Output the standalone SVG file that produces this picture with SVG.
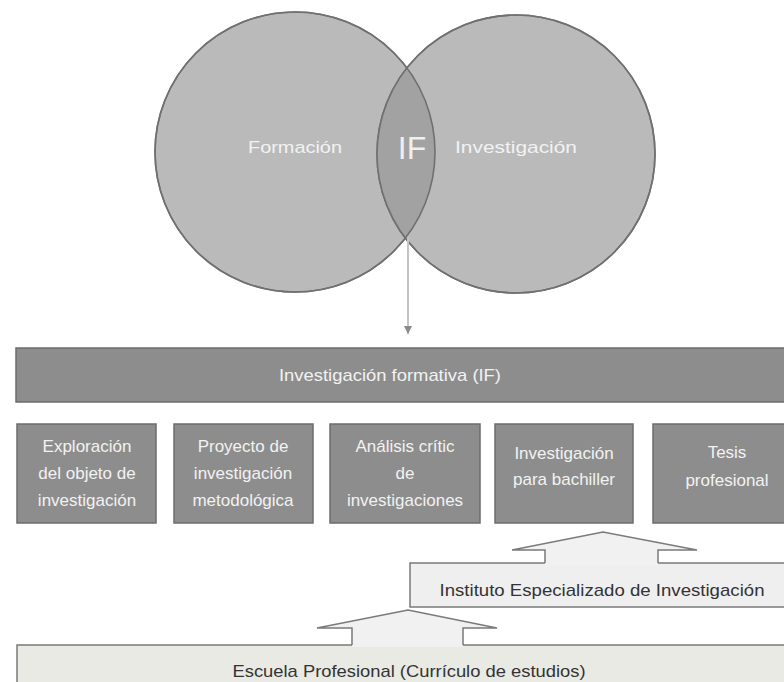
<svg xmlns="http://www.w3.org/2000/svg" width="784" height="682" viewBox="0 0 784 682">
<style>
text{font-family:"Liberation Sans","DejaVu Sans",sans-serif;}
.lt{fill:#f2f2f2;font-size:17px;text-anchor:middle;}
.dk{fill:#333333;font-size:17px;text-anchor:middle;}
.circ{fill:#bababa;stroke:#707070;stroke-width:1.6;}
.box{fill:#8d8d8d;stroke:#6c6c6c;stroke-width:1.5;}
.pale{fill:#efefef;stroke:#7a7a7a;stroke-width:1.5;}
.pale2{fill:#eaeae4;stroke:#7a7a7a;stroke-width:1.5;}
.afill{fill:#f1f1f1;stroke:none;}
.aline{fill:none;stroke:#7a7a7a;stroke-width:1.5;stroke-linejoin:miter;}
</style>
<defs>
<clipPath id="leftClip"><circle cx="295" cy="152" r="140"/></clipPath>
<marker id="ah" markerWidth="8" markerHeight="8" refX="8" refY="4" orient="auto" markerUnits="userSpaceOnUse">
<path d="M0,0 L8,4 L0,8 Z" fill="#8a8a8a"/>
</marker>
</defs>
<rect width="784" height="682" fill="#ffffff"/>

<g id="formacion">
<circle class="circ" cx="295" cy="152" r="140"/>
<text class="lt" x="295" y="153" textLength="94" lengthAdjust="spacingAndGlyphs">Formación</text>
</g>
<g id="investigacion">
<circle class="circ" cx="516" cy="154" r="139"/>
<circle cx="516" cy="154" r="139" fill="#a2a2a2" clip-path="url(#leftClip)"/>
<circle cx="295" cy="152" r="140" fill="none" stroke="#707070" stroke-width="1.6"/>
<circle cx="516" cy="154" r="139" fill="none" stroke="#707070" stroke-width="1.6"/>
<text class="lt" x="516" y="153" textLength="122" lengthAdjust="spacingAndGlyphs">Investigación</text>
</g>
<g id="if">
<text x="412" y="159" fill="#efefef" font-size="32" text-anchor="middle">IF</text>
</g>

<g id="if-bar">
<rect class="box" x="16" y="348" width="775" height="54"/>
<text class="lt" x="390" y="381" textLength="222" lengthAdjust="spacingAndGlyphs">Investigación formativa (IF)</text>
</g>

<g id="box1">
<rect class="box" x="17" y="424" width="139" height="99"/>
<text class="lt" x="87" y="452">Exploración</text>
<text class="lt" x="87" y="479">del objeto de</text>
<text class="lt" x="87" y="506">investigación</text>
</g>
<g id="box2">
<rect class="box" x="174" y="424" width="139" height="99"/>
<text class="lt" x="243" y="452">Proyecto de</text>
<text class="lt" x="243" y="479">investigación</text>
<text class="lt" x="243" y="506">metodológica</text>
</g>
<g id="box3">
<rect class="box" x="330" y="424" width="150" height="99"/>
<text class="lt" x="405" y="452">Análisis crític</text>
<text class="lt" x="405" y="479">de</text>
<text class="lt" x="405" y="506">investigaciones</text>
</g>
<g id="box4">
<rect class="box" x="495" y="424" width="138" height="99"/>
<text class="lt" x="564" y="459">Investigación</text>
<text class="lt" x="564" y="485">para bachiller</text>
</g>
<g id="box5">
<rect class="box" x="653" y="424" width="150" height="99"/>
<text class="lt" x="727" y="458">Tesis</text>
<text class="lt" x="727" y="486">profesional</text>
</g>

<g id="instituto">
<rect class="pale" x="410" y="563" width="390" height="44"/>
<text class="dk" x="602" y="596" textLength="325" lengthAdjust="spacingAndGlyphs">Instituto Especializado de Investigación</text>
</g>
<g id="escuela">
<rect class="pale2" x="17" y="645" width="790" height="60"/>
<text class="dk" x="409" y="677" textLength="353" lengthAdjust="spacingAndGlyphs">Escuela Profesional (Currículo de estudios)</text>
</g>

<g id="connectors">
<line x1="408" y1="237" x2="408" y2="334" stroke="#c4c4c4" stroke-width="2" marker-end="url(#ah)"/>
<polygon class="afill" points="545,565 545,550 512,550 603,532 697,550 658,550 658,565"/>
<polyline class="aline" points="545,563 545,550 512,550 603,532 697,550 658,550 658,563"/>
<polygon class="afill" points="352,647 352,628 317,628 408,610 497,628 463,628 463,647"/>
<polyline class="aline" points="352,645 352,628 317,628 408,610 497,628 463,628 463,645"/>
</g>
</svg>
